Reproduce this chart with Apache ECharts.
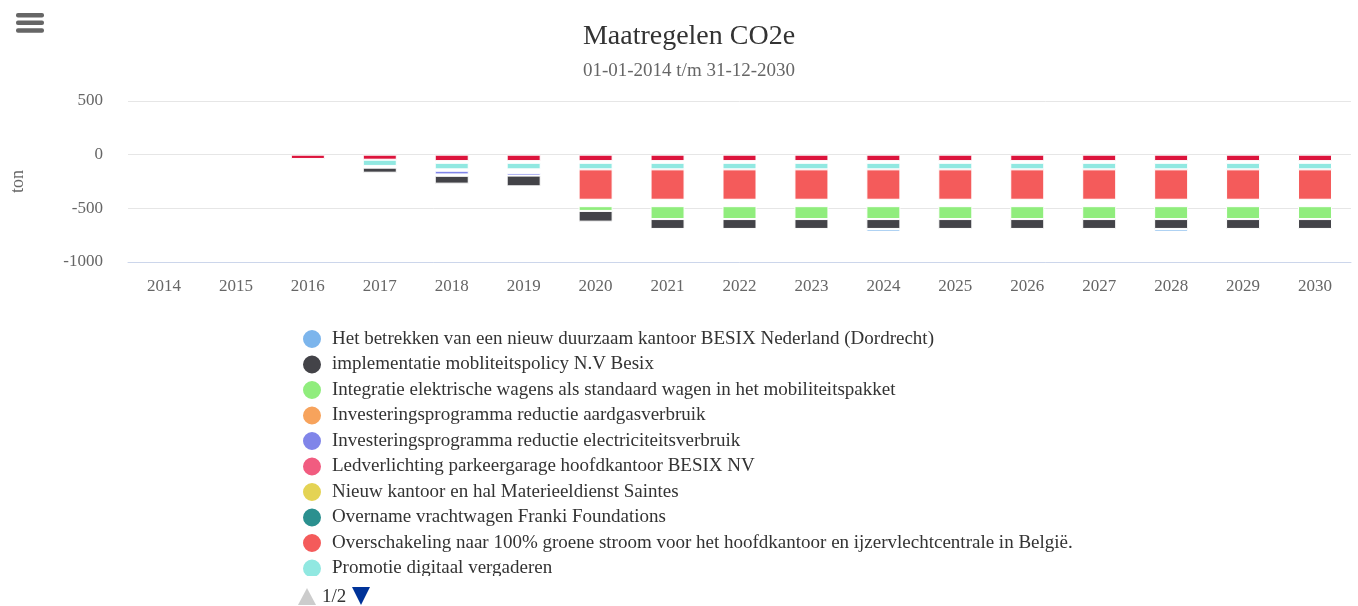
<!DOCTYPE html>
<html>
<head>
<meta charset="utf-8">
<script src="https://cdn.jsdelivr.net/npm/echarts@6/dist/echarts.min.js"></script>
<style>
html,body{margin:0;padding:0;background:#fff;}
#chart{width:1358px;height:606px;}
</style>
</head>
<body>
<div id="chart"></div>
<script>
// ---- data (ton CO2e, reductions shown as negative values) ----
var years = ['2014','2015','2016','2017','2018','2019','2020','2021','2022','2023','2024','2025','2026','2027','2028','2029','2030'];
var yTicks = [-1000, -500, 0, 500];

// page-2 series (crimson, nearest to zero)
var crimsonVals   = [null,null,-40,-47,-60,-60,-60,-60,-60,-60,-60,-60,-60,-60,-60,-60,-60];
var gapAVals      = [null,null,null,null,-16,-16,-16,-16,-16,-16,-16,-16,-16,-16,-16,-16,-16];
var promotieVals  = [null,null,null,-58,-61,-61,-61,-61,-61,-61,-61,-61,-61,-61,-61,-61,-61];
var overschVals   = [null,null,null,null,null,null,-283,-283,-283,-283,-283,-283,-283,-283,-283,-283,-283];
var gapBVals      = [null,null,null,-16,-13,-33,-60,-60,-60,-60,-60,-60,-60,-60,-60,-60,-60];
var elecVals      = [null,null,null,null,-34,-25,null,null,null,null,null,null,null,null,null,null,null];
var gapCVals      = [null,null,null,null,-13,null,null,null,null,null,null,null,null,null,null,null,null];
var integratieVals= [null,null,null,null,null,null,-44,-120,-120,-120,-120,-120,-120,-120,-120,-120,-120];
var mobiliteitVals= [null,null,null,-47,-73,-100,-100,-92,-92,-92,-92,-92,-92,-92,-92,-92,-92];
var betrekkenVals = [null,null,null,null,null,null,null,null,null,null,-25,null,null,null,-25,null,null];

var legendNames = [
  'Het betrekken van een nieuw duurzaam kantoor BESIX Nederland (Dordrecht)',
  'implementatie mobliteitspolicy N.V Besix',
  'Integratie elektrische wagens als standaard wagen in het mobiliteitspakket',
  'Investeringsprogramma reductie aardgasverbruik',
  'Investeringsprogramma reductie electriciteitsverbruik',
  'Ledverlichting parkeergarage hoofdkantoor BESIX NV',
  'Nieuw kantoor en hal Materieeldienst Saintes',
  'Overname vrachtwagen Franki Foundations',
  'Overschakeling naar 100% groene stroom voor het hoofdkantoor en ijzervlechtcentrale in België.',
  'Promotie digitaal vergaderen'
];
var legendColors = ['#7cb5ec','#434348','#90ed7d','#f7a35c','#8085e9','#f15c80','#e4d354','#2b908f','#f45b5b','#91e8e1'];

var FONT = "'Liberation Serif','Times New Roman',serif";

function bar(name, data, color) {
  return {
    name: name, type: 'bar', stack: 'total', data: data, barWidth: 34,
    itemStyle: { color: color, borderColor: '#ffffff', borderWidth: 1 },
    emphasis: { disabled: true }
  };
}

var series = [
  bar('Overige maatregel', crimsonVals, '#dc143c'),
  bar('_gapA', gapAVals, '#ffffff'),
  bar(legendNames[9], promotieVals, legendColors[9]),
  bar(legendNames[8], overschVals, legendColors[8]),
  bar('_gapB', gapBVals, '#ffffff'),
  bar(legendNames[7], [], legendColors[7]),
  bar(legendNames[6], [], legendColors[6]),
  bar(legendNames[5], [], legendColors[5]),
  bar(legendNames[4], elecVals, legendColors[4]),
  bar('_gapC', gapCVals, '#ffffff'),
  bar(legendNames[3], [], legendColors[3]),
  bar(legendNames[2], integratieVals, legendColors[2]),
  bar(legendNames[1], mobiliteitVals, legendColors[1]),
  bar(legendNames[0], betrekkenVals, legendColors[0])
];

var chart = echarts.init(document.getElementById('chart'), null, { renderer: 'canvas' });
chart.setOption({
  animation: false,
  backgroundColor: '#ffffff',
  textStyle: { fontFamily: FONT },
  title: {
    text: 'Maatregelen CO2e',
    subtext: '01-01-2014 t/m 31-12-2030',
    left: 684, top: 18, textAlign: 'center',
    itemGap: 11,
    textStyle: { fontFamily: FONT, fontSize: 28, fontWeight: 'normal', color: '#333333' },
    subtextStyle: { fontFamily: FONT, fontSize: 19, color: '#666666' }
  },
  legend: {
    type: 'plain', orient: 'vertical', left: 296, top: 323,
    data: legendNames, icon: 'circle',
    itemWidth: 20, itemHeight: 20, itemGap: 3.5,
    selectedMode: false,
    textStyle: { fontFamily: FONT, fontSize: 19, color: '#333333', padding: [0, 0, 0, 5] }
  },
  grid: { left: 128, right: 7, top: 101, height: 161, containLabel: false },
  xAxis: {
    type: 'category', data: years,
    axisLine: { onZero: false, lineStyle: { color: '#ccd6eb', width: 1 } },
    axisTick: { show: false },
    axisLabel: { fontFamily: FONT, fontSize: 17, color: '#666666', margin: 16 },
    splitLine: { show: false }
  },
  yAxis: {
    type: 'value', min: yTicks[0], max: yTicks[yTicks.length - 1], interval: 500,
    name: 'ton', nameLocation: 'middle', nameRotate: 90, nameGap: 101,
    nameTextStyle: { fontFamily: FONT, fontSize: 18, color: '#666666' },
    axisLine: { show: false }, axisTick: { show: false },
    axisLabel: { fontFamily: FONT, fontSize: 17, color: '#666666', margin: 25,
      formatter: function (v) { return String(v); } },
    splitLine: { lineStyle: { color: '#e6e6e6', width: 1 } }
  },
  series: series,
  graphic: [
    { type: 'rect', shape: { x: 16, y: 13, width: 28, height: 4.5, r: 2 }, style: { fill: '#666666' }, z: 100 },
    { type: 'rect', shape: { x: 16, y: 20.5, width: 28, height: 4.5, r: 2 }, style: { fill: '#666666' }, z: 100 },
    { type: 'rect', shape: { x: 16, y: 28.3, width: 28, height: 4.5, r: 2 }, style: { fill: '#666666' }, z: 100 },
    { type: 'rect', shape: { x: 290, y: 576, width: 900, height: 30 }, style: { fill: '#ffffff' }, z: 100 },
    { type: 'polygon', shape: { points: [[298, 605], [307, 588], [316, 605]] }, style: { fill: '#cccccc' }, z: 101 },
    { type: 'text', x: 322, y: 597, style: { text: '1/2', font: '19px ' + FONT, fill: '#333333', verticalAlign: 'middle' }, z: 101 },
    { type: 'polygon', shape: { points: [[352, 587], [370, 587], [361, 605]] }, style: { fill: '#003399' }, z: 101 }
  ]
});
</script>
</body>
</html>
